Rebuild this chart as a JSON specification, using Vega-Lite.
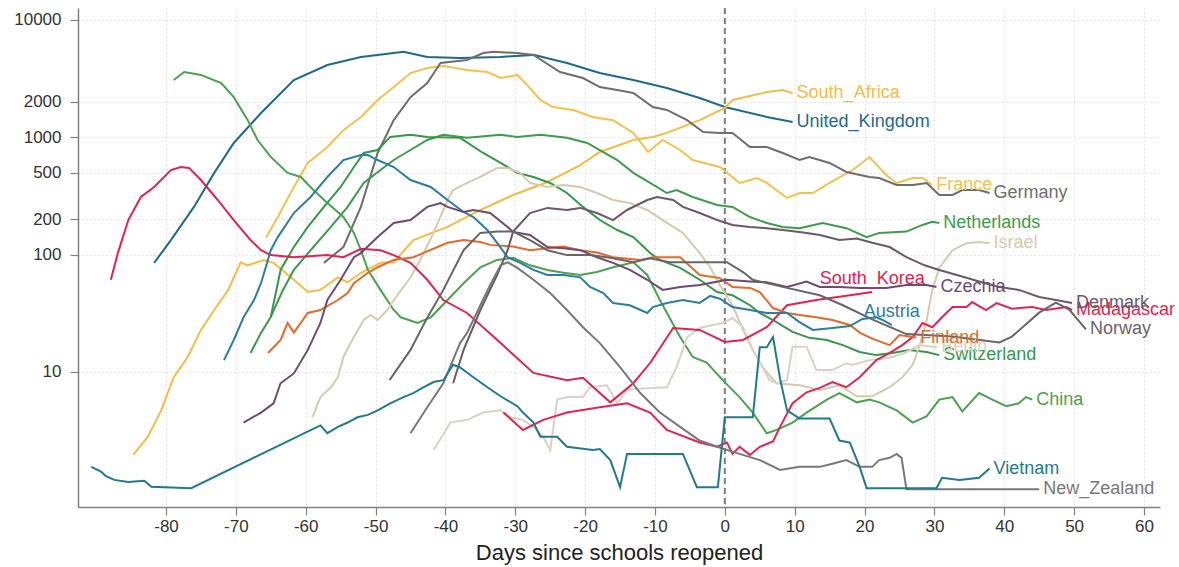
{
"$schema": "https://vega.github.io/schema/vega-lite/v6.json",
"width": 1082, "height": 499,
"autosize": {"type": "none"},
"padding": {"left": 78, "top": 8, "right": 19, "bottom": 60},
"background": "white",
"title": {"text": "Daily cases (7-day moving average, log scale)", "anchor": "start", "frame": "group", "fontSize": 22, "fontWeight": "normal", "color": "#222", "offset": 6, "baseline": "alphabetic", "dx": -113, "font": "Liberation Sans"},
"datasets": {
"zero": [{"d": 0}],
"series": [
{"c":"United_Kingdom","d":-81.7,"v":85},{"c":"United_Kingdom","d":-79.3,"v":133},{"c":"United_Kingdom","d":-76.0,"v":255},{"c":"United_Kingdom","d":-73.1,"v":497},{"c":"United_Kingdom","d":-70.3,"v":894},{"c":"United_Kingdom","d":-66.4,"v":1610},{"c":"United_Kingdom","d":-61.7,"v":3080},{"c":"United_Kingdom","d":-56.9,"v":4130},{"c":"United_Kingdom","d":-52.1,"v":4840},{"c":"United_Kingdom","d":-47.4,"v":5240},{"c":"United_Kingdom","d":-46.0,"v":5350},{"c":"United_Kingdom","d":-42.6,"v":4840},{"c":"United_Kingdom","d":-37.9,"v":4740},{"c":"United_Kingdom","d":-32.1,"v":4840},{"c":"United_Kingdom","d":-27.4,"v":5040},{"c":"United_Kingdom","d":-22.6,"v":4300},{"c":"United_Kingdom","d":-17.9,"v":3530},{"c":"United_Kingdom","d":-13.1,"v":3080},{"c":"United_Kingdom","d":-8.3,"v":2630},{"c":"United_Kingdom","d":-3.6,"v":2160},{"c":"United_Kingdom","d":0,"v":1810},{"c":"United_Kingdom","d":6.0,"v":1490},{"c":"United_Kingdom","d":9.7,"v":1350},
{"c":"South_Africa","d":-84.7,"v":1.96},{"c":"South_Africa","d":-82.6,"v":2.8},{"c":"South_Africa","d":-80.7,"v":4.7},{"c":"South_Africa","d":-78.9,"v":9.0},{"c":"South_Africa","d":-76.9,"v":13.4},{"c":"South_Africa","d":-75.0,"v":22.8},{"c":"South_Africa","d":-73.1,"v":33.7},{"c":"South_Africa","d":-71.1,"v":50},{"c":"South_Africa","d":-69.3,"v":86},{"c":"South_Africa","d":-68.3,"v":81},{"c":"South_Africa","d":-66.0,"v":90},{"c":"South_Africa","d":-64.6,"v":85},{"c":"South_Africa","d":-61.7,"v":61},{"c":"South_Africa","d":-59.7,"v":48},{"c":"South_Africa","d":-57.9,"v":50},{"c":"South_Africa","d":-55.4,"v":64},{"c":"South_Africa","d":-54.0,"v":58},{"c":"South_Africa","d":-52.1,"v":70},{"c":"South_Africa","d":-49.3,"v":85},{"c":"South_Africa","d":-47.4,"v":86},{"c":"South_Africa","d":-44.6,"v":133},{"c":"South_Africa","d":-39.7,"v":172},{"c":"South_Africa","d":-35.0,"v":240},{"c":"South_Africa","d":-30.3,"v":322},{"c":"South_Africa","d":-25.4,"v":416},{"c":"South_Africa","d":-20.7,"v":580},{"c":"South_Africa","d":-17.9,"v":750},{"c":"South_Africa","d":-13.1,"v":948},{"c":"South_Africa","d":-10.3,"v":1007},{"c":"South_Africa","d":-8.3,"v":1090},{"c":"South_Africa","d":-3.6,"v":1400},{"c":"South_Africa","d":0,"v":1780},{"c":"South_Africa","d":1.1,"v":2080},{"c":"South_Africa","d":6.0,"v":2430},{"c":"South_Africa","d":8.3,"v":2530},{"c":"South_Africa","d":9.7,"v":2380},
{"c":"France","d":-65.7,"v":139},{"c":"France","d":-64.0,"v":209},{"c":"France","d":-61.7,"v":377},{"c":"France","d":-59.7,"v":604},{"c":"France","d":-56.9,"v":826},{"c":"France","d":-54.6,"v":1150},{"c":"France","d":-52.1,"v":1490},{"c":"France","d":-49.7,"v":2080},{"c":"France","d":-47.4,"v":2680},{"c":"France","d":-45.0,"v":3530},{"c":"France","d":-42.6,"v":3900},{"c":"France","d":-40.3,"v":4050},{"c":"France","d":-36.9,"v":3750},{"c":"France","d":-34.0,"v":3600},{"c":"France","d":-32.1,"v":3200},{"c":"France","d":-29.7,"v":3400},{"c":"France","d":-28.3,"v":2790},{"c":"France","d":-26.4,"v":2080},{"c":"France","d":-24.6,"v":1810},{"c":"France","d":-21.7,"v":1710},{"c":"France","d":-18.9,"v":1490},{"c":"France","d":-16.0,"v":1400},{"c":"France","d":-13.1,"v":1090},{"c":"France","d":-11.0,"v":750},{"c":"France","d":-8.9,"v":948},{"c":"France","d":-6.4,"v":779},{"c":"France","d":-4.6,"v":640},{"c":"France","d":-0.7,"v":558},{"c":"France","d":2.1,"v":408},{"c":"France","d":4.6,"v":450},{"c":"France","d":6.0,"v":408},{"c":"France","d":8.9,"v":304},{"c":"France","d":10.7,"v":335},{"c":"France","d":12.6,"v":335},{"c":"France","d":15.0,"v":408},{"c":"France","d":18.3,"v":526},{"c":"France","d":20.7,"v":679},{"c":"France","d":23.1,"v":477},{"c":"France","d":24.6,"v":408},{"c":"France","d":26.9,"v":450},{"c":"France","d":28.3,"v":450},{"c":"France","d":29.7,"v":392},
{"c":"Germany","d":-57.4,"v":85},{"c":"Germany","d":-54.6,"v":116},{"c":"Germany","d":-52.1,"v":255},{"c":"Germany","d":-49.7,"v":735},{"c":"Germany","d":-47.4,"v":1400},{"c":"Germany","d":-45.0,"v":2200},{"c":"Germany","d":-42.6,"v":2900},{"c":"Germany","d":-40.7,"v":4300},{"c":"Germany","d":-36.9,"v":4560},{"c":"Germany","d":-34.6,"v":5230},{"c":"Germany","d":-33.1,"v":5350},{"c":"Germany","d":-29.7,"v":5230},{"c":"Germany","d":-27.4,"v":5030},{"c":"Germany","d":-23.6,"v":3600},{"c":"Germany","d":-20.3,"v":3200},{"c":"Germany","d":-17.9,"v":2680},{"c":"Germany","d":-15.4,"v":2530},{"c":"Germany","d":-13.1,"v":2390},{"c":"Germany","d":-10.3,"v":1810},{"c":"Germany","d":-8.3,"v":1710},{"c":"Germany","d":-5.4,"v":1400},{"c":"Germany","d":-3.1,"v":1110},{"c":"Germany","d":-0.7,"v":1090},{"c":"Germany","d":1.1,"v":1090},{"c":"Germany","d":3.6,"v":826},{"c":"Germany","d":6.0,"v":826},{"c":"Germany","d":8.3,"v":735},{"c":"Germany","d":10.7,"v":640},{"c":"Germany","d":12.1,"v":680},{"c":"Germany","d":15.0,"v":604},{"c":"Germany","d":17.4,"v":506},{"c":"Germany","d":20.7,"v":459},{"c":"Germany","d":22.1,"v":450},{"c":"Germany","d":24.6,"v":392},{"c":"Germany","d":26.9,"v":392},{"c":"Germany","d":28.9,"v":408},{"c":"Germany","d":30.7,"v":322},{"c":"Germany","d":32.6,"v":322},{"c":"Germany","d":34.0,"v":355},{"c":"Germany","d":36.4,"v":355},{"c":"Germany","d":37.9,"v":335},
{"c":"Netherlands","d":-65.0,"v":29.4},{"c":"Netherlands","d":-63.4,"v":48},{"c":"Netherlands","d":-61.7,"v":74},{"c":"Netherlands","d":-58.9,"v":116},{"c":"Netherlands","d":-56.4,"v":172},{"c":"Netherlands","d":-54.0,"v":255},{"c":"Netherlands","d":-51.7,"v":408},{"c":"Netherlands","d":-49.3,"v":526},{"c":"Netherlands","d":-47.4,"v":640},{"c":"Netherlands","d":-45.0,"v":779},{"c":"Netherlands","d":-42.6,"v":948},{"c":"Netherlands","d":-40.3,"v":1050},{"c":"Netherlands","d":-36.9,"v":990},{"c":"Netherlands","d":-32.1,"v":1050},{"c":"Netherlands","d":-29.7,"v":1007},{"c":"Netherlands","d":-26.4,"v":1050},{"c":"Netherlands","d":-22.6,"v":990},{"c":"Netherlands","d":-19.7,"v":894},{"c":"Netherlands","d":-17.9,"v":779},{"c":"Netherlands","d":-15.4,"v":640},{"c":"Netherlands","d":-13.1,"v":497},{"c":"Netherlands","d":-10.7,"v":408},{"c":"Netherlands","d":-8.3,"v":335},{"c":"Netherlands","d":-6.9,"v":355},{"c":"Netherlands","d":-4.6,"v":310},{"c":"Netherlands","d":-1.1,"v":265},{"c":"Netherlands","d":1.1,"v":255},{"c":"Netherlands","d":3.6,"v":209},{"c":"Netherlands","d":6.0,"v":186},{"c":"Netherlands","d":8.3,"v":172},{"c":"Netherlands","d":10.7,"v":168},{"c":"Netherlands","d":14.0,"v":186},{"c":"Netherlands","d":17.4,"v":168},{"c":"Netherlands","d":20.3,"v":141},{"c":"Netherlands","d":22.1,"v":153},{"c":"Netherlands","d":26.0,"v":157},{"c":"Netherlands","d":28.3,"v":179},{"c":"Netherlands","d":29.7,"v":190},{"c":"Netherlands","d":30.7,"v":186},
{"c":"Switzerland","d":-67.9,"v":14.5},{"c":"Switzerland","d":-66.4,"v":21.5},{"c":"Switzerland","d":-65.0,"v":29.4},{"c":"Switzerland","d":-63.6,"v":74},{"c":"Switzerland","d":-61.7,"v":116},{"c":"Switzerland","d":-59.7,"v":172},{"c":"Switzerland","d":-57.4,"v":255},{"c":"Switzerland","d":-55.0,"v":377},{"c":"Switzerland","d":-53.1,"v":558},{"c":"Switzerland","d":-51.7,"v":735},{"c":"Switzerland","d":-49.7,"v":779},{"c":"Switzerland","d":-47.9,"v":1007},{"c":"Switzerland","d":-45.0,"v":1050},{"c":"Switzerland","d":-42.6,"v":1007},{"c":"Switzerland","d":-37.9,"v":990},{"c":"Switzerland","d":-34.6,"v":735},{"c":"Switzerland","d":-32.1,"v":604},{"c":"Switzerland","d":-29.7,"v":497},{"c":"Switzerland","d":-27.4,"v":459},{"c":"Switzerland","d":-25.0,"v":408},{"c":"Switzerland","d":-22.6,"v":335},{"c":"Switzerland","d":-20.3,"v":255},{"c":"Switzerland","d":-17.9,"v":197},{"c":"Switzerland","d":-15.4,"v":162},{"c":"Switzerland","d":-13.1,"v":141},{"c":"Switzerland","d":-10.7,"v":103},{"c":"Switzerland","d":-9.3,"v":90},{"c":"Switzerland","d":-6.4,"v":77},{"c":"Switzerland","d":-3.6,"v":61},{"c":"Switzerland","d":-1.1,"v":48},{"c":"Switzerland","d":1.1,"v":45},{"c":"Switzerland","d":3.6,"v":37},{"c":"Switzerland","d":5.0,"v":31.8},{"c":"Switzerland","d":7.4,"v":26.6},{"c":"Switzerland","d":9.7,"v":21.9},{"c":"Switzerland","d":12.1,"v":19.5},{"c":"Switzerland","d":14.6,"v":18.7},{"c":"Switzerland","d":16.9,"v":16.9},{"c":"Switzerland","d":19.3,"v":14.8},{"c":"Switzerland","d":21.7,"v":13.9},{"c":"Switzerland","d":24.0,"v":14.5},{"c":"Switzerland","d":26.4,"v":15.4},{"c":"Switzerland","d":28.9,"v":14.8},{"c":"Switzerland","d":30.7,"v":13.9},
{"c":"China","d":-78.9,"v":3080},{"c":"China","d":-77.4,"v":3600},{"c":"China","d":-75.0,"v":3400},{"c":"China","d":-72.1,"v":2900},{"c":"China","d":-70.3,"v":2200},{"c":"China","d":-68.3,"v":1400},{"c":"China","d":-66.9,"v":948},{"c":"China","d":-65.0,"v":680},{"c":"China","d":-62.6,"v":497},{"c":"China","d":-60.7,"v":459},{"c":"China","d":-58.9,"v":355},{"c":"China","d":-56.9,"v":275},{"c":"China","d":-54.6,"v":209},{"c":"China","d":-53.1,"v":153},{"c":"China","d":-52.1,"v":109},{"c":"China","d":-51.1,"v":74},{"c":"China","d":-49.3,"v":50},{"c":"China","d":-47.4,"v":33.7},{"c":"China","d":-46.4,"v":29.2},{"c":"China","d":-44.0,"v":26.1},{"c":"China","d":-42.1,"v":29.2},{"c":"China","d":-39.7,"v":41},{"c":"China","d":-37.4,"v":57},{"c":"China","d":-35.0,"v":78},{"c":"China","d":-32.6,"v":90},{"c":"China","d":-30.3,"v":94},{"c":"China","d":-27.9,"v":81},{"c":"China","d":-25.4,"v":74},{"c":"China","d":-23.1,"v":70},{"c":"China","d":-20.7,"v":67},{"c":"China","d":-18.3,"v":71},{"c":"China","d":-16.0,"v":78},{"c":"China","d":-13.1,"v":86},{"c":"China","d":-11.1,"v":67},{"c":"China","d":-9.3,"v":41},{"c":"China","d":-6.4,"v":19.8},{"c":"China","d":-4.6,"v":13.4},{"c":"China","d":-2.6,"v":12.0},{"c":"China","d":-0.3,"v":8.5},{"c":"China","d":2.1,"v":6.1},{"c":"China","d":4.0,"v":4.5},{"c":"China","d":6.0,"v":3.0},{"c":"China","d":7.4,"v":3.2},{"c":"China","d":9.7,"v":3.7},{"c":"China","d":11.7,"v":4.5},{"c":"China","d":14.6,"v":5.8},{"c":"China","d":16.4,"v":6.6},{"c":"China","d":18.9,"v":5.5},{"c":"China","d":20.7,"v":5.8},{"c":"China","d":22.1,"v":5.5},{"c":"China","d":24.6,"v":4.7},{"c":"China","d":26.9,"v":3.7},{"c":"China","d":28.9,"v":4.2},{"c":"China","d":30.7,"v":5.8},{"c":"China","d":32.6,"v":6.1},{"c":"China","d":34.0,"v":4.6},{"c":"China","d":36.4,"v":6.6},{"c":"China","d":38.3,"v":5.8},{"c":"China","d":40.3,"v":5.1},{"c":"China","d":42.1,"v":5.4},{"c":"China","d":43.1,"v":6.1},{"c":"China","d":44.0,"v":5.8},
{"c":"Israel","d":-59.1,"v":4.1},{"c":"Israel","d":-58.9,"v":4.3},{"c":"Israel","d":-57.9,"v":6.1},{"c":"Israel","d":-56.4,"v":7.4},{"c":"Israel","d":-55.4,"v":9.0},{"c":"Israel","d":-54.6,"v":13.4},{"c":"Israel","d":-53.1,"v":19.8},{"c":"Israel","d":-51.7,"v":27.7},{"c":"Israel","d":-50.7,"v":30.6},{"c":"Israel","d":-49.7,"v":27.7},{"c":"Israel","d":-48.3,"v":33.7},{"c":"Israel","d":-47.4,"v":41},{"c":"Israel","d":-45.0,"v":64},{"c":"Israel","d":-43.6,"v":90},{"c":"Israel","d":-41.7,"v":153},{"c":"Israel","d":-39.7,"v":292},{"c":"Israel","d":-38.9,"v":355},{"c":"Israel","d":-36.9,"v":408},{"c":"Israel","d":-35.0,"v":459},{"c":"Israel","d":-32.6,"v":548},{"c":"Israel","d":-31.1,"v":548},{"c":"Israel","d":-29.3,"v":497},{"c":"Israel","d":-27.9,"v":408},{"c":"Israel","d":-25.4,"v":377},{"c":"Israel","d":-23.1,"v":392},{"c":"Israel","d":-20.7,"v":377},{"c":"Israel","d":-18.3,"v":335},{"c":"Israel","d":-16.0,"v":292},{"c":"Israel","d":-13.6,"v":275},{"c":"Israel","d":-11.1,"v":240},{"c":"Israel","d":-8.9,"v":197},{"c":"Israel","d":-6.0,"v":153},{"c":"Israel","d":-3.6,"v":103},{"c":"Israel","d":-2.1,"v":78},{"c":"Israel","d":-0.7,"v":55},{"c":"Israel","d":1.1,"v":37},{"c":"Israel","d":2.6,"v":22.8},{"c":"Israel","d":4.0,"v":15.4},{"c":"Israel","d":5.4,"v":11.0},{"c":"Israel","d":7.4,"v":8.0},{"c":"Israel","d":10.7,"v":7.7},{"c":"Israel","d":13.6,"v":7.0},{"c":"Israel","d":16.4,"v":7.7},{"c":"Israel","d":18.9,"v":6.2},{"c":"Israel","d":21.1,"v":6.2},{"c":"Israel","d":23.6,"v":7.4},{"c":"Israel","d":25.4,"v":9.0},{"c":"Israel","d":26.9,"v":11.5},{"c":"Israel","d":27.9,"v":16.9},{"c":"Israel","d":28.9,"v":27.7},{"c":"Israel","d":29.7,"v":50},{"c":"Israel","d":30.7,"v":77},{"c":"Israel","d":32.6,"v":109},{"c":"Israel","d":34.6,"v":125},{"c":"Israel","d":36.4,"v":128},{"c":"Israel","d":37.9,"v":125},
{"c":"Benin","d":-41.7,"v":2.16},{"c":"Benin","d":-39.3,"v":3.7},{"c":"Benin","d":-36.9,"v":3.9},{"c":"Benin","d":-34.6,"v":4.5},{"c":"Benin","d":-32.1,"v":4.7},{"c":"Benin","d":-30.7,"v":4.1},{"c":"Benin","d":-28.9,"v":3.9},{"c":"Benin","d":-27.4,"v":3.4},{"c":"Benin","d":-26.0,"v":2.8},{"c":"Benin","d":-25.0,"v":2.16},{"c":"Benin","d":-24.0,"v":5.8},{"c":"Benin","d":-22.6,"v":6.1},{"c":"Benin","d":-20.3,"v":6.1},{"c":"Benin","d":-19.3,"v":7.4},{"c":"Benin","d":-16.9,"v":7.7},{"c":"Benin","d":-15.4,"v":5.4},{"c":"Benin","d":-14.0,"v":7.0},{"c":"Benin","d":-12.1,"v":7.2},{"c":"Benin","d":-8.3,"v":7.4},{"c":"Benin","d":-6.9,"v":11.0},{"c":"Benin","d":-5.4,"v":19.8},{"c":"Benin","d":-3.6,"v":23.7},{"c":"Benin","d":-1.7,"v":25.1},{"c":"Benin","d":-0.3,"v":26.1},{"c":"Benin","d":1.1,"v":28.8},{"c":"Benin","d":2.6,"v":24},{"c":"Benin","d":4.0,"v":15.4},{"c":"Benin","d":5.4,"v":11.0},{"c":"Benin","d":6.4,"v":8.5},{"c":"Benin","d":7.4,"v":8.0},{"c":"Benin","d":8.9,"v":8.5},{"c":"Benin","d":9.7,"v":16.4},{"c":"Benin","d":11.7,"v":16.4},{"c":"Benin","d":13.1,"v":10.4},{"c":"Benin","d":15.4,"v":10.4},{"c":"Benin","d":17.4,"v":11.8},{"c":"Benin","d":18.3,"v":11.5},{"c":"Benin","d":20.7,"v":12.6},{"c":"Benin","d":23.6,"v":13.2},{"c":"Benin","d":25.7,"v":14.5},{"c":"Benin","d":27.9,"v":16.9},{"c":"Benin","d":30.4,"v":16.2},
{"c":"South_Korea","d":-87.9,"v":61},{"c":"South_Korea","d":-86.9,"v":103},{"c":"South_Korea","d":-85.4,"v":197},{"c":"South_Korea","d":-83.6,"v":310},{"c":"South_Korea","d":-81.7,"v":377},{"c":"South_Korea","d":-79.3,"v":526},{"c":"South_Korea","d":-77.9,"v":558},{"c":"South_Korea","d":-76.7,"v":548},{"c":"South_Korea","d":-75.0,"v":432},{"c":"South_Korea","d":-72.6,"v":292},{"c":"South_Korea","d":-70.3,"v":197},{"c":"South_Korea","d":-67.9,"v":133},{"c":"South_Korea","d":-66.4,"v":109},{"c":"South_Korea","d":-65.0,"v":99},{"c":"South_Korea","d":-61.7,"v":95},{"c":"South_Korea","d":-56.9,"v":99},{"c":"South_Korea","d":-54.6,"v":95},{"c":"South_Korea","d":-52.1,"v":112},{"c":"South_Korea","d":-49.3,"v":109},{"c":"South_Korea","d":-47.4,"v":99},{"c":"South_Korea","d":-45.0,"v":85},{"c":"South_Korea","d":-42.6,"v":61},{"c":"South_Korea","d":-40.3,"v":41},{"c":"South_Korea","d":-36.9,"v":31.8},{"c":"South_Korea","d":-32.1,"v":17.6},{"c":"South_Korea","d":-27.4,"v":9.8},{"c":"South_Korea","d":-22.6,"v":8.5},{"c":"South_Korea","d":-20.3,"v":8.9},{"c":"South_Korea","d":-17.9,"v":6.6},{"c":"South_Korea","d":-16.4,"v":5.5},{"c":"South_Korea","d":-13.1,"v":8.0},{"c":"South_Korea","d":-10.7,"v":11.9},{"c":"South_Korea","d":-7.4,"v":23.7},{"c":"South_Korea","d":-3.6,"v":22.8},{"c":"South_Korea","d":0,"v":18.0},{"c":"South_Korea","d":2.6,"v":18.7},{"c":"South_Korea","d":6.0,"v":24.1},{"c":"South_Korea","d":8.9,"v":37},{"c":"South_Korea","d":13.1,"v":41},{"c":"South_Korea","d":17.9,"v":45},{"c":"South_Korea","d":21.1,"v":48},
{"c":"Madagascar","d":-31.7,"v":4.5},{"c":"Madagascar","d":-28.9,"v":3.2},{"c":"Madagascar","d":-26.0,"v":3.9},{"c":"Madagascar","d":-22.6,"v":4.5},{"c":"Madagascar","d":-17.9,"v":5.0},{"c":"Madagascar","d":-14.0,"v":5.4},{"c":"Madagascar","d":-10.7,"v":4.5},{"c":"Madagascar","d":-8.3,"v":3.2},{"c":"Madagascar","d":-3.6,"v":2.5},{"c":"Madagascar","d":-1.1,"v":2.3},{"c":"Madagascar","d":0.3,"v":2.5},{"c":"Madagascar","d":1.1,"v":2.0},{"c":"Madagascar","d":2.1,"v":2.3},{"c":"Madagascar","d":3.6,"v":1.96},{"c":"Madagascar","d":5.0,"v":2.3},{"c":"Madagascar","d":6.9,"v":2.55},{"c":"Madagascar","d":7.9,"v":3.4},{"c":"Madagascar","d":9.7,"v":5.4},{"c":"Madagascar","d":11.7,"v":6.7},{"c":"Madagascar","d":13.6,"v":7.3},{"c":"Madagascar","d":15.4,"v":8.2},{"c":"Madagascar","d":17.4,"v":7.4},{"c":"Madagascar","d":19.3,"v":9.0},{"c":"Madagascar","d":21.7,"v":12.6},{"c":"Madagascar","d":23.6,"v":14.5},{"c":"Madagascar","d":25.4,"v":16.9},{"c":"Madagascar","d":26.9,"v":19.8},{"c":"Madagascar","d":28.3,"v":26.1},{"c":"Madagascar","d":29.7,"v":24},{"c":"Madagascar","d":31.7,"v":31.8},{"c":"Madagascar","d":32.6,"v":35.7},{"c":"Madagascar","d":34.6,"v":35.7},{"c":"Madagascar","d":35.4,"v":39.4},{"c":"Madagascar","d":37.4,"v":33.7},{"c":"Madagascar","d":38.9,"v":38.6},{"c":"Madagascar","d":41.1,"v":34.6},{"c":"Madagascar","d":44.0,"v":35.7},{"c":"Madagascar","d":46.0,"v":33.7},{"c":"Madagascar","d":48.9,"v":35.7},{"c":"Madagascar","d":49.7,"v":33.7},
{"c":"Finland","d":-65.4,"v":14.5},{"c":"Finland","d":-63.6,"v":18.7},{"c":"Finland","d":-62.6,"v":26.1},{"c":"Finland","d":-61.7,"v":21.6},{"c":"Finland","d":-59.7,"v":31.8},{"c":"Finland","d":-57.9,"v":33.7},{"c":"Finland","d":-55.4,"v":41},{"c":"Finland","d":-54.0,"v":47},{"c":"Finland","d":-53.1,"v":57},{"c":"Finland","d":-51.1,"v":70},{"c":"Finland","d":-49.7,"v":78},{"c":"Finland","d":-47.4,"v":90},{"c":"Finland","d":-44.6,"v":95},{"c":"Finland","d":-39.7,"v":126},{"c":"Finland","d":-37.4,"v":133},{"c":"Finland","d":-35.0,"v":128},{"c":"Finland","d":-33.6,"v":121},{"c":"Finland","d":-30.3,"v":117},{"c":"Finland","d":-27.9,"v":109},{"c":"Finland","d":-25.4,"v":113},{"c":"Finland","d":-23.1,"v":117},{"c":"Finland","d":-20.7,"v":109},{"c":"Finland","d":-18.3,"v":104},{"c":"Finland","d":-16.0,"v":95},{"c":"Finland","d":-12.1,"v":90},{"c":"Finland","d":-10.3,"v":95},{"c":"Finland","d":-6.4,"v":95},{"c":"Finland","d":-3.6,"v":67},{"c":"Finland","d":-0.7,"v":63},{"c":"Finland","d":1.1,"v":53},{"c":"Finland","d":3.6,"v":52},{"c":"Finland","d":5.0,"v":48},{"c":"Finland","d":6.9,"v":35},{"c":"Finland","d":8.9,"v":31.8},{"c":"Finland","d":10.7,"v":30.6},{"c":"Finland","d":13.1,"v":29.2},{"c":"Finland","d":15.4,"v":27.7},{"c":"Finland","d":17.9,"v":25.1},{"c":"Finland","d":19.3,"v":21.6},{"c":"Finland","d":21.1,"v":19.2},{"c":"Finland","d":23.6,"v":16.9},{"c":"Finland","d":25.0,"v":20.6},{"c":"Finland","d":27.4,"v":19.6},
{"c":"Austria","d":-71.7,"v":12.6},{"c":"Austria","d":-70.3,"v":18.7},{"c":"Austria","d":-68.9,"v":29.2},{"c":"Austria","d":-67.4,"v":41},{"c":"Austria","d":-66.4,"v":57},{"c":"Austria","d":-65.0,"v":109},{"c":"Austria","d":-64.0,"v":141},{"c":"Austria","d":-61.7,"v":226},{"c":"Austria","d":-59.3,"v":310},{"c":"Austria","d":-56.9,"v":459},{"c":"Austria","d":-54.6,"v":640},{"c":"Austria","d":-52.1,"v":706},{"c":"Austria","d":-51.1,"v":706},{"c":"Austria","d":-49.7,"v":640},{"c":"Austria","d":-47.4,"v":558},{"c":"Austria","d":-45.0,"v":432},{"c":"Austria","d":-42.1,"v":377},{"c":"Austria","d":-39.7,"v":292},{"c":"Austria","d":-37.4,"v":231},{"c":"Austria","d":-36.0,"v":209},{"c":"Austria","d":-34.0,"v":162},{"c":"Austria","d":-32.6,"v":126},{"c":"Austria","d":-31.1,"v":95},{"c":"Austria","d":-29.3,"v":85},{"c":"Austria","d":-27.4,"v":74},{"c":"Austria","d":-25.4,"v":67},{"c":"Austria","d":-23.1,"v":67},{"c":"Austria","d":-20.7,"v":64},{"c":"Austria","d":-19.3,"v":53},{"c":"Austria","d":-17.4,"v":47},{"c":"Austria","d":-16.0,"v":38.7},{"c":"Austria","d":-13.6,"v":37},{"c":"Austria","d":-11.1,"v":31.8},{"c":"Austria","d":-10.3,"v":35.7},{"c":"Austria","d":-8.3,"v":38.7},{"c":"Austria","d":-6.0,"v":41},{"c":"Austria","d":-3.6,"v":38.7},{"c":"Austria","d":-2.1,"v":44.4},{"c":"Austria","d":-0.7,"v":42},{"c":"Austria","d":1.1,"v":35.7},{"c":"Austria","d":3.6,"v":33.7},{"c":"Austria","d":6.0,"v":31.8},{"c":"Austria","d":8.9,"v":31.8},{"c":"Austria","d":10.7,"v":26.6},{"c":"Austria","d":12.6,"v":22.8},{"c":"Austria","d":15.4,"v":23.7},{"c":"Austria","d":17.9,"v":24.6},{"c":"Austria","d":19.7,"v":28.3},{"c":"Austria","d":21.7,"v":29.2},{"c":"Austria","d":22.6,"v":27.7},{"c":"Austria","d":23.9,"v":25.1},
{"c":"Czechia","d":-68.9,"v":3.7},{"c":"Czechia","d":-66.4,"v":4.5},{"c":"Czechia","d":-64.6,"v":5.4},{"c":"Czechia","d":-63.6,"v":8.0},{"c":"Czechia","d":-61.7,"v":9.7},{"c":"Czechia","d":-59.7,"v":15.4},{"c":"Czechia","d":-57.9,"v":26.1},{"c":"Czechia","d":-56.9,"v":41},{"c":"Czechia","d":-55.0,"v":61},{"c":"Czechia","d":-53.1,"v":95},{"c":"Czechia","d":-52.1,"v":103},{"c":"Czechia","d":-49.7,"v":141},{"c":"Czechia","d":-47.4,"v":186},{"c":"Czechia","d":-45.0,"v":197},{"c":"Czechia","d":-42.6,"v":255},{"c":"Czechia","d":-40.7,"v":275},{"c":"Czechia","d":-39.7,"v":255},{"c":"Czechia","d":-37.4,"v":231},{"c":"Czechia","d":-36.0,"v":240},{"c":"Czechia","d":-33.6,"v":226},{"c":"Czechia","d":-31.1,"v":172},{"c":"Czechia","d":-30.3,"v":156},{"c":"Czechia","d":-27.9,"v":147},{"c":"Czechia","d":-25.4,"v":116},{"c":"Czechia","d":-23.1,"v":113},{"c":"Czechia","d":-20.7,"v":109},{"c":"Czechia","d":-18.3,"v":95},{"c":"Czechia","d":-16.0,"v":85},{"c":"Czechia","d":-13.6,"v":74},{"c":"Czechia","d":-11.1,"v":61},{"c":"Czechia","d":-8.9,"v":50},{"c":"Czechia","d":-6.4,"v":53},{"c":"Czechia","d":-3.6,"v":55},{"c":"Czechia","d":0.3,"v":61},{"c":"Czechia","d":3.6,"v":59},{"c":"Czechia","d":6.0,"v":58},{"c":"Czechia","d":8.9,"v":53},{"c":"Czechia","d":11.7,"v":59},{"c":"Czechia","d":13.6,"v":53},{"c":"Czechia","d":16.4,"v":53},{"c":"Czechia","d":19.3,"v":52},{"c":"Czechia","d":23.1,"v":52},{"c":"Czechia","d":26.0,"v":55},{"c":"Czechia","d":28.9,"v":55},{"c":"Czechia","d":30.3,"v":53},
{"c":"Denmark","d":-38.9,"v":8.0},{"c":"Denmark","d":-37.4,"v":15.4},{"c":"Denmark","d":-35.0,"v":33.7},{"c":"Denmark","d":-32.6,"v":67},{"c":"Denmark","d":-31.1,"v":109},{"c":"Denmark","d":-30.3,"v":157},{"c":"Denmark","d":-27.9,"v":226},{"c":"Denmark","d":-25.4,"v":250},{"c":"Denmark","d":-22.6,"v":240},{"c":"Denmark","d":-20.7,"v":250},{"c":"Denmark","d":-18.3,"v":226},{"c":"Denmark","d":-16.0,"v":197},{"c":"Denmark","d":-14.0,"v":240},{"c":"Denmark","d":-11.1,"v":292},{"c":"Denmark","d":-9.7,"v":310},{"c":"Denmark","d":-7.4,"v":292},{"c":"Denmark","d":-6.0,"v":255},{"c":"Denmark","d":-3.6,"v":226},{"c":"Denmark","d":-1.1,"v":197},{"c":"Denmark","d":1.1,"v":179},{"c":"Denmark","d":3.6,"v":172},{"c":"Denmark","d":6.0,"v":168},{"c":"Denmark","d":8.3,"v":162},{"c":"Denmark","d":10.7,"v":156},{"c":"Denmark","d":13.6,"v":147},{"c":"Denmark","d":16.4,"v":133},{"c":"Denmark","d":18.9,"v":137},{"c":"Denmark","d":21.1,"v":126},{"c":"Denmark","d":23.6,"v":116},{"c":"Denmark","d":26.0,"v":95},{"c":"Denmark","d":28.6,"v":81},{"c":"Denmark","d":30.7,"v":74},{"c":"Denmark","d":33.6,"v":66},{"c":"Denmark","d":36.4,"v":59},{"c":"Denmark","d":39.3,"v":53},{"c":"Denmark","d":42.1,"v":50},{"c":"Denmark","d":45.0,"v":43.5},{"c":"Denmark","d":47.4,"v":41},{"c":"Denmark","d":49.7,"v":38.6},
{"c":"Norway","d":-48.0,"v":8.5},{"c":"Norway","d":-45.0,"v":15.4},{"c":"Norway","d":-42.6,"v":29},{"c":"Norway","d":-40.3,"v":50},{"c":"Norway","d":-37.4,"v":109},{"c":"Norway","d":-35.0,"v":153},{"c":"Norway","d":-32.6,"v":157},{"c":"Norway","d":-30.3,"v":157},{"c":"Norway","d":-27.9,"v":133},{"c":"Norway","d":-25.4,"v":109},{"c":"Norway","d":-22.6,"v":99},{"c":"Norway","d":-19.3,"v":99},{"c":"Norway","d":-16.4,"v":94},{"c":"Norway","d":-13.1,"v":86},{"c":"Norway","d":-10.7,"v":93},{"c":"Norway","d":-7.9,"v":86},{"c":"Norway","d":-3.6,"v":86},{"c":"Norway","d":0.3,"v":86},{"c":"Norway","d":2.6,"v":71},{"c":"Norway","d":4.0,"v":61},{"c":"Norway","d":8.9,"v":52},{"c":"Norway","d":13.6,"v":45},{"c":"Norway","d":16.9,"v":37},{"c":"Norway","d":21.1,"v":28},{"c":"Norway","d":26.0,"v":21},{"c":"Norway","d":32.6,"v":20},{"c":"Norway","d":39.3,"v":17.8},{"c":"Norway","d":41.1,"v":20},{"c":"Norway","d":45.0,"v":32},{"c":"Norway","d":47.4,"v":39},{"c":"Norway","d":49.3,"v":34},{"c":"Norway","d":51.7,"v":23},
{"c":"New_Zealand","d":-45.0,"v":3.0},{"c":"New_Zealand","d":-42.6,"v":5.0},{"c":"New_Zealand","d":-40.3,"v":8.0},{"c":"New_Zealand","d":-37.9,"v":17.6},{"c":"New_Zealand","d":-36.9,"v":21.5},{"c":"New_Zealand","d":-35.0,"v":37},{"c":"New_Zealand","d":-33.6,"v":55},{"c":"New_Zealand","d":-32.1,"v":81},{"c":"New_Zealand","d":-31.1,"v":86},{"c":"New_Zealand","d":-29.7,"v":77},{"c":"New_Zealand","d":-27.4,"v":61},{"c":"New_Zealand","d":-25.0,"v":47},{"c":"New_Zealand","d":-22.6,"v":33.7},{"c":"New_Zealand","d":-20.3,"v":24},{"c":"New_Zealand","d":-17.9,"v":17.6},{"c":"New_Zealand","d":-15.0,"v":11.0},{"c":"New_Zealand","d":-12.1,"v":6.6},{"c":"New_Zealand","d":-9.3,"v":4.5},{"c":"New_Zealand","d":-6.4,"v":3.4},{"c":"New_Zealand","d":-3.6,"v":2.6},{"c":"New_Zealand","d":-1.1,"v":2.3},{"c":"New_Zealand","d":2.1,"v":2.0},{"c":"New_Zealand","d":5.0,"v":1.77},{"c":"New_Zealand","d":7.9,"v":1.46},{"c":"New_Zealand","d":10.7,"v":1.55},{"c":"New_Zealand","d":13.6,"v":1.55},{"c":"New_Zealand","d":15.4,"v":1.65},{"c":"New_Zealand","d":17.4,"v":1.77},{"c":"New_Zealand","d":19.3,"v":1.55},{"c":"New_Zealand","d":21.1,"v":1.55},{"c":"New_Zealand","d":22.1,"v":1.77},{"c":"New_Zealand","d":23.6,"v":1.85},{"c":"New_Zealand","d":24.6,"v":2.0},{"c":"New_Zealand","d":25.3,"v":1.85},{"c":"New_Zealand","d":26.0,"v":1.0},{"c":"New_Zealand","d":33.6,"v":1.0},{"c":"New_Zealand","d":39.3,"v":1.0},{"c":"New_Zealand","d":45.0,"v":1.0},
{"c":"Vietnam","d":-90.7,"v":1.55},{"c":"Vietnam","d":-89.3,"v":1.41},{"c":"Vietnam","d":-88.6,"v":1.29},{"c":"Vietnam","d":-87.4,"v":1.2},{"c":"Vietnam","d":-85.4,"v":1.15},{"c":"Vietnam","d":-83.1,"v":1.18},{"c":"Vietnam","d":-82.1,"v":1.05},{"c":"Vietnam","d":-76.4,"v":1.02},{"c":"Vietnam","d":-57.9,"v":3.5},{"c":"Vietnam","d":-56.9,"v":3.0},{"c":"Vietnam","d":-55.4,"v":3.4},{"c":"Vietnam","d":-54.0,"v":3.7},{"c":"Vietnam","d":-52.6,"v":4.1},{"c":"Vietnam","d":-51.1,"v":4.3},{"c":"Vietnam","d":-49.7,"v":4.7},{"c":"Vietnam","d":-47.9,"v":5.4},{"c":"Vietnam","d":-46.0,"v":6.1},{"c":"Vietnam","d":-44.6,"v":6.6},{"c":"Vietnam","d":-43.1,"v":7.4},{"c":"Vietnam","d":-41.7,"v":8.2},{"c":"Vietnam","d":-40.3,"v":8.5},{"c":"Vietnam","d":-38.9,"v":11.5},{"c":"Vietnam","d":-37.9,"v":10.9},{"c":"Vietnam","d":-36.0,"v":9.0},{"c":"Vietnam","d":-34.0,"v":7.4},{"c":"Vietnam","d":-32.1,"v":6.2},{"c":"Vietnam","d":-29.7,"v":5.1},{"c":"Vietnam","d":-28.9,"v":4.5},{"c":"Vietnam","d":-27.4,"v":3.7},{"c":"Vietnam","d":-26.4,"v":2.8},{"c":"Vietnam","d":-24.0,"v":2.8},{"c":"Vietnam","d":-22.6,"v":2.3},{"c":"Vietnam","d":-18.9,"v":2.16},{"c":"Vietnam","d":-17.9,"v":2.2},{"c":"Vietnam","d":-16.4,"v":1.77},{"c":"Vietnam","d":-15.0,"v":1.04},{"c":"Vietnam","d":-14.0,"v":2.0},{"c":"Vietnam","d":-6.0,"v":2.0},{"c":"Vietnam","d":-4.0,"v":1.04},{"c":"Vietnam","d":-1.0,"v":1.04},{"c":"Vietnam","d":0,"v":4.1},{"c":"Vietnam","d":4.0,"v":4.1},{"c":"Vietnam","d":5.0,"v":16.2},{"c":"Vietnam","d":6.0,"v":16.2},{"c":"Vietnam","d":6.9,"v":19.8},{"c":"Vietnam","d":7.9,"v":8.8},{"c":"Vietnam","d":8.9,"v":4.7},{"c":"Vietnam","d":10.7,"v":4.0},{"c":"Vietnam","d":15.0,"v":4.0},{"c":"Vietnam","d":16.4,"v":2.6},{"c":"Vietnam","d":17.9,"v":2.5},{"c":"Vietnam","d":19.3,"v":1.55},{"c":"Vietnam","d":20.3,"v":1.02},{"c":"Vietnam","d":30.3,"v":1.02},{"c":"Vietnam","d":31.1,"v":1.25},{"c":"Vietnam","d":33.6,"v":1.2},{"c":"Vietnam","d":36.4,"v":1.25},{"c":"Vietnam","d":37.9,"v":1.5}
]},
"layer": [
{"data": {"name": "zero"}, "mark": {"type": "rule", "color": "#7d7d7d", "strokeDash": [6, 4], "strokeWidth": 2}, "encoding": {"x": {"field": "d", "type": "quantitative"}}},
{"data": {"name": "series"}, "mark": {"type": "line", "strokeWidth": 2, "clip": true, "interpolate": "linear"},
 "encoding": {
  "x": {"field": "d", "type": "quantitative", "scale": {"domain": [-92.6, 62.3], "nice": false, "zero": false},
        "axis": {"values": [-80,-70,-60,-50,-40,-30,-20,-10,0,10,20,30,40,50,60], "labelExpr": "'' + datum.value", "title": "Days since schools reopened", "labelFlush": false, "labelOverlap": false, "titlePadding": 8}},
  "y": {"field": "v", "type": "quantitative", "scale": {"type": "log", "domain": [0.705, 12650], "nice": false},
        "axis": {"values": [10,100,200,500,1000,2000,10000], "labelExpr": "'' + datum.value", "title": null, "labelOverlap": false, "labelPadding": 9}},
  "color": {"field": "c", "type": "nominal", "legend": null,
   "scale": {"domain": ["South_Africa","United_Kingdom","France","Germany","Netherlands","Israel","South_Korea","Czechia","Austria","Denmark","Madagascar","Norway","Finland","Benin","Switzerland","China","Vietnam","New_Zealand"],
             "range": ["#F4BC45","#1D6A8A","#F4C04E","#6E6E6E","#3C9C4C","#D4CBAE","#E0234F","#6E4A70","#2C7D9E","#6B5868","#E02550","#666666","#E26A2C","#D9D2C4","#35974A","#4AA250","#1F7A8C","#787878"]}},
  "detail": {"field": "c"}
 }},
{"data": {"name": "series"},
 "transform": [{"joinaggregate": [{"op": "max", "field": "d", "as": "maxd"}], "groupby": ["c"]}, {"filter": "datum.d == datum.maxd && datum.c != 'South_Korea' && datum.c != 'Austria'"}],
 "mark": {"type": "text", "align": "left", "baseline": "middle", "dx": 4, "fontSize": 18, "font": "Liberation Sans"},
 "encoding": {"x": {"field": "d", "type": "quantitative"}, "y": {"field": "v", "type": "quantitative"}, "text": {"field": "c"}, "color": {"field": "c", "type": "nominal", "legend": null}}},
{"data": {"name": "series"},
 "transform": [{"joinaggregate": [{"op": "max", "field": "d", "as": "maxd"}], "groupby": ["c"]}, {"filter": "datum.d == datum.maxd && (datum.c == 'South_Korea' || datum.c == 'Austria')"}],
 "mark": {"type": "text", "align": "center", "baseline": "bottom", "dy": -4, "fontSize": 18, "font": "Liberation Sans"},
 "encoding": {"x": {"field": "d", "type": "quantitative"}, "y": {"field": "v", "type": "quantitative"}, "text": {"field": "c"}, "color": {"field": "c", "type": "nominal", "legend": null}}}
],
"config": {
 "view": {"stroke": null},
 "font": "Liberation Sans",
 "axis": {"grid": true, "gridColor": "#cccccc", "gridDash": [1, 3], "gridWidth": 1, "domainColor": "#808080", "domainWidth": 1.5, "tickColor": "#808080", "tickSize": 8, "tickWidth": 1.2, "labelFontSize": 17, "labelColor": "#333333", "labelFont": "Liberation Sans", "titleFont": "Liberation Sans", "titleFontSize": 22, "titleFontWeight": "normal", "titleColor": "#222222", "labelPadding": 3, "titlePadding": 6}
}
}
